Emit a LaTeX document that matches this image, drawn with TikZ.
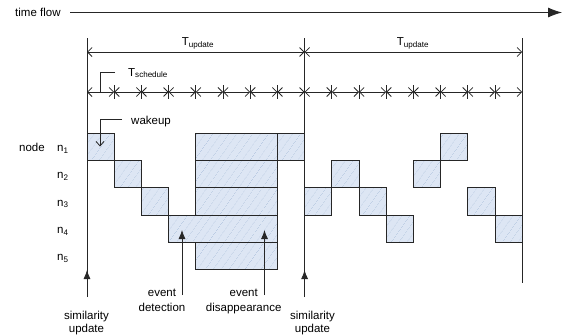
\documentclass[tikz,border=0pt]{standalone}
\usepackage{fontspec}
\setmainfont{Liberation Sans}
\usetikzlibrary{arrows.meta,patterns.meta}
\definecolor{ink}{HTML}{262626}
\definecolor{boxfill}{HTML}{DDE6F4}
\definecolor{hatch}{HTML}{A9BEDC}
\tikzset{
  lbl/.style={inner sep=0pt, font=\fontsize{11.5}{14}\selectfont, text=black},
  slotbox/.style={draw=ink, line width=0.9pt, preaction={fill=boxfill},
    pattern={Lines[angle=55,distance=6.5pt,line width=0.5pt]}, pattern color=hatch},
  axisline/.style={draw=ink, line width=0.8pt},
  barbs/.style={axisline, {Straight Barb[length=4.5pt,width=9pt]}-{Straight Barb[length=4.5pt,width=9pt]}},
  pointer/.style={axisline, -{Latex[length=9pt,width=7pt]}},
  leader/.style={axisline, -{Straight Barb[length=4.5pt,width=8pt]}},
}
\begin{document}
\begin{tikzpicture}[x=1pt,y=-1pt]
\useasboundingbox (0,0) rectangle (567,335);

% time flow
\node[lbl,anchor=base west] (tf) at (15,16.5) {time flow};
\coordinate (tfend) at (562,12.5);
\draw[axisline,-{Latex[length=14pt,width=10pt]}] (70,12.5) -- (tfend);

% main vertical lines
\coordinate (v1top) at (87,38);
\coordinate (v2top) at (304.6,38);
\coordinate (v3top) at (522.2,38);
\draw[axisline] (v1top) -- (87,297);
\draw[axisline] (v2top) -- (304.6,297);
\draw[axisline] (v3top) -- (522.2,283);

% T_update
\draw[barbs] (87,52) -- (304.6,52);
\draw[barbs] (304.6,52) -- (522.2,52);
\node[lbl,anchor=base] (tu1) at (198,45.5) {T\textsubscript{update}};
\node[lbl,anchor=base] (tu2) at (413,45.5) {T\textsubscript{update}};

% T_schedule
\foreach \k in {1,...,15} \draw[axisline] ({87+27.2*\k},85) -- ({87+27.2*\k},99);
\foreach \k in {0,...,15} \draw[barbs] ({87+27.2*\k},92) -- ({87+27.2*(\k+1)},92);
\node[lbl,anchor=base west] (ts) at (128,76) {T\textsubscript{schedule}};
\draw[axisline] (115,72.3) -- (100.7,72.3) -- (100.7,92);

% row labels
\node[lbl,anchor=base west] (nodelbl) at (19,151.6) {node};
\foreach \r in {1,...,5}
  \node[lbl,anchor=base west] (n\r) at (57,{151.6+27.2*(\r-1)}) {n\textsubscript{\r}};

% boxes
\foreach \i/\r/\l in {0/1/1,4/1/3,7/1/1,13/1/1,
                      1/2/1,4/2/3,9/2/1,12/2/1,
                      2/3/1,4/3/3,8/3/1,10/3/1,14/3/1,
                      3/4/4,11/4/1,15/4/1,
                      4/5/3}
  \draw[slotbox] ({87+27.2*\i},{133.5+27.2*(\r-1)}) rectangle ++({27.2*\l},27.2);

% wakeup
\node[lbl,anchor=base west] (wk) at (131,124) {wakeup};
\draw[leader] (122,119.3) -- (100,119.3) -- (100,146.5);

% event arrows
\coordinate (edtip) at (182,230);
\coordinate (eetip) at (264.5,230);
\draw[pointer] (182,295) -- (edtip);
\draw[pointer] (264.5,295) -- (eetip);
\node[lbl,anchor=north,align=center,font=\fontsize{11.5}{15.5}\selectfont] (ed) at (162,288.5) {event\\detection};
\node[lbl,anchor=north,align=center,font=\fontsize{11.5}{15.5}\selectfont] (ee) at (243.7,288.5) {event\\disappearance};

% similarity update arrows
\coordinate (su1tip) at (87,270);
\coordinate (su2tip) at (304.6,270);
\draw[pointer] (87,297) -- (su1tip);
\draw[pointer] (304.6,297) -- (su2tip);
\node[lbl,anchor=north,align=center,font=\fontsize{11.5}{13}\selectfont] (su1) at (86.5,310.5) {similarity\\update};
\node[lbl,anchor=north,align=center,font=\fontsize{11.5}{13}\selectfont] (su2) at (312.5,310.5) {similarity\\update};
\end{tikzpicture}
\end{document}
